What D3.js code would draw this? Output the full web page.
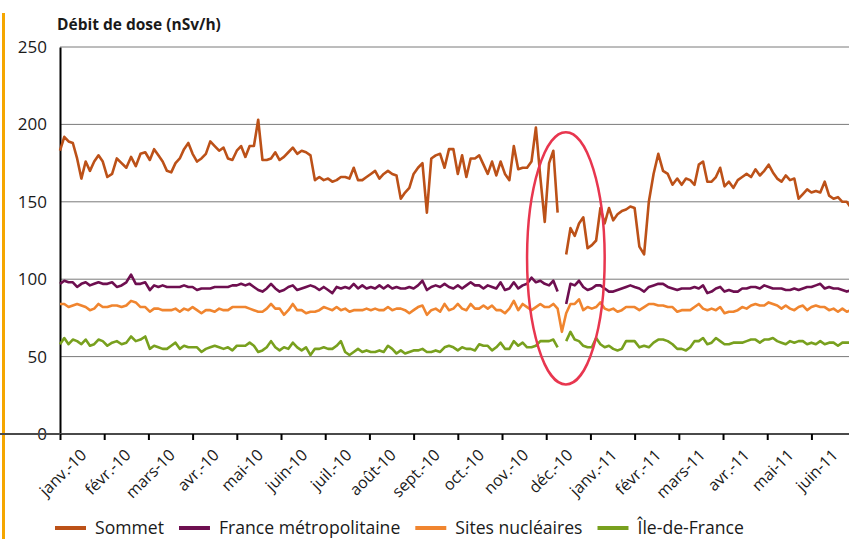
<!DOCTYPE html>
<html><head><meta charset="utf-8">
<script src="https://cdn.jsdelivr.net/npm/d3@7/dist/d3.min.js"></script>
<style>
body{margin:0;background:#fff}
text{font-family:"Open Sans",sans-serif;fill:#1a1a1a}
</style>
</head><body>
<svg id="chart" width="849" height="539"></svg>
<script>
// ---- data ----
const monthLabels = ["janv.-10","févr.-10","mars-10","avr.-10","mai-10","juin-10","juil.-10","août-10","sept.-10","oct.-10","nov.-10","déc.-10","janv.-11","févr.-11","mars-11","avr.-11","mai-11","juin-11"];
const yTicks = [0,50,100,150,200,250];
const seriesNames = ["Sommet","France métropolitaine","Sites nucléaires","Île-de-France"];
const seriesColors = ["#BC5118","#6E0F50","#F0852F","#78A01E"];
const startDate = new Date(2010,0,1);
const stepDays = 3;

const sommet = [183,192,189,188,178,165,176,170,176,180,
176,166,168,178,175,172,179,173,181,182,
177,184,180,176,170,169,175,178,184,188,
181,176,178,181,189,186,183,185,178,177,
183,186,179,186,186,203,177,177,178,182,
177,179,182,185,181,183,182,180,164,166,
164,165,163,164,166,166,165,172,164,164,
166,168,170,165,168,170,168,167,152,156,
159,168,172,175,143,178,180,181,172,184,
184,168,180,166,178,178,180,174,168,176,
167,176,168,164,186,171,172,172,176,198,
166,137,175,183,143,null,116,133,128,136,
140,120,122,125,146,136,146,138,142,144,
145,147,146,121,116,150,168,181,170,168,
161,165,161,165,164,161,174,176,163,163,
166,172,160,163,159,164,166,168,166,171,
167,170,174,169,165,163,167,164,165,152,
155,158,156,157,156,163,154,152,153,150,
150,146];

const franceMetro = [97,99,98,98,95,97,98,96,97,98,
97,97,98,95,96,98,103,97,97,98,
93,96,95,96,95,95,95,95,96,95,
95,93,94,94,94,95,95,95,95,96,
96,97,96,97,95,93,92,94,97,94,
92,93,95,96,93,94,95,96,95,93,
95,93,91,95,94,95,94,97,94,96,
94,95,94,96,94,96,94,95,94,94,
95,94,96,99,93,95,96,95,97,95,
94,96,94,96,98,96,96,94,96,95,
94,98,93,94,98,94,96,97,101,98,
99,97,96,99,92,null,84,97,96,99,
95,93,94,96,96,94,92,92,93,94,
95,96,95,94,92,95,96,97,97,95,
94,93,94,94,94,95,94,96,91,92,
94,95,92,93,92,92,94,94,95,95,
94,96,95,94,94,94,93,93,94,93,
94,95,95,96,97,94,95,94,94,93,
92,93];

const sitesNucleaires = [84,84,82,83,84,83,82,80,81,84,
82,82,83,83,82,83,86,85,82,82,
79,81,81,80,80,80,81,79,81,80,
82,80,78,80,80,79,81,80,80,82,
82,82,82,81,80,79,79,81,84,81,
81,77,80,84,80,80,78,79,79,80,
82,81,80,82,80,81,79,80,80,80,
81,80,81,80,80,82,80,81,81,80,
78,80,82,83,77,80,81,79,84,80,
81,84,81,80,84,81,81,83,81,83,
80,80,78,81,86,80,84,82,80,82,
84,82,82,84,81,66,78,84,84,87,
80,82,81,82,85,81,80,81,79,80,
82,82,82,80,82,84,84,83,83,82,
82,79,80,80,80,82,84,81,80,81,
80,82,78,79,79,80,82,81,83,84,
83,83,85,84,83,81,83,81,80,82,
83,80,82,83,82,82,80,81,79,81,
79,80];

const ileDeFrance = [58,62,58,61,60,58,61,57,58,61,
60,57,59,60,58,59,63,60,61,63,
55,57,56,55,55,57,59,55,57,56,
56,56,53,55,56,57,56,55,56,54,
57,57,57,59,57,53,54,56,60,56,
54,56,55,59,56,54,56,51,55,55,
56,55,55,57,60,53,51,53,55,53,
54,53,53,54,53,57,55,52,54,52,
53,54,54,55,53,53,54,53,56,57,
56,54,56,55,55,54,58,57,57,54,
56,59,55,55,60,57,59,56,56,57,
60,60,60,61,56,null,60,66,61,60,
57,56,56,62,58,56,57,55,54,55,
60,60,60,56,57,56,59,61,61,60,
58,55,55,54,56,60,60,62,58,59,
62,60,58,58,59,59,59,60,61,61,
59,61,61,62,60,59,58,60,59,60,
60,58,59,58,60,58,59,59,57,59,
59,59];

// highlighted period (red ellipse)
const highlightDates = [new Date(2010,10,18), new Date(2011,0,11)];
const highlightValues = [32, 195];

// ---- chart ----
const svg = d3.select("#chart");
const series = [sommet, franceMetro, sitesNucleaires, ileDeFrance];
const dates = sommet.map((_, i) => d3.timeDay.offset(startDate, i * stepDays));
function monthPos(d) {
  const m = (d.getFullYear() - 2010) * 12 + d.getMonth();
  const dim = new Date(d.getFullYear(), d.getMonth() + 1, 0).getDate();
  return m + (d.getDate() - 1) / dim;
}
const x = d3.scaleLinear().domain([0, 17.85]).range([60, 849]);
const y = d3.scaleLinear().domain([0, 250]).range([434, 47]);

// left accent bar
svg.append("rect").attr("x", 2).attr("y", 13).attr("width", 3).attr("height", 526).attr("fill", "#F5A600");

// title
svg.append("text").attr("x", 57).attr("y", 30).attr("font-size", "15.5px").attr("font-weight", "bold").text("Débit de dose (nSv/h)");

// gridlines
svg.append("g").selectAll("line").data(yTicks.filter(v => v > 0)).join("line")
  .attr("x1", 60).attr("x2", 849).attr("y1", d => y(d)).attr("y2", d => y(d))
  .attr("stroke", "#7a7a7a").attr("stroke-width", 1);

// y axis
const yAxis = svg.append("g").attr("transform", "translate(60,0)")
  .call(d3.axisLeft(y).tickValues(yTicks).tickSize(0).tickPadding(13));
yAxis.select(".domain").attr("stroke", "#000").attr("stroke-width", 2);
yAxis.selectAll("text").attr("font-size", "17px").attr("font-family", "Open Sans").attr("fill", "#1a1a1a");

// x axis
const xAxis = svg.append("g").attr("transform", "translate(0,434)")
  .call(d3.axisBottom(x).tickValues(d3.range(monthLabels.length)).tickFormat(i => monthLabels[i]).tickSizeOuter(0).tickSize(6));
xAxis.select(".domain").attr("stroke", "#4a4a4a").attr("stroke-width", 2).attr("d", "M-5,0H849");
xAxis.selectAll(".tick line").attr("stroke", "#000").attr("stroke-width", 2);
xAxis.selectAll(".tick text")
  .attr("font-size", "16px").attr("font-family", "Open Sans").attr("fill", "#1a1a1a")
  .attr("text-anchor", "end").attr("x", 0).attr("y", 0).attr("dy", "0.35em")
  .attr("transform", "translate(23,18) rotate(-45)");
// small tick at zero on y axis
svg.append("line").attr("x1", 55).attr("x2", 60).attr("y1", y(0)).attr("y2", y(0)).attr("stroke", "#4a4a4a").attr("stroke-width", 2);

// lines
const line = d3.line().defined(d => d.v != null).x(d => x(monthPos(d.date))).y(d => y(d.v));
const drawOrder = [3, 2, 1, 0];
drawOrder.forEach(k => {
  const pts = series[k].map((v, i) => ({ date: dates[i], v }));
  svg.append("path").datum(pts).attr("d", line)
    .attr("fill", "none").attr("stroke", seriesColors[k]).attr("stroke-width", 2.6)
    .attr("stroke-linejoin", "round");
});

// red ellipse
const ex0 = x(monthPos(highlightDates[0])), ex1 = x(monthPos(highlightDates[1]));
const ey0 = y(highlightValues[1]), ey1 = y(highlightValues[0]);
svg.append("ellipse").attr("cx", (ex0 + ex1) / 2).attr("cy", (ey0 + ey1) / 2)
  .attr("rx", (ex1 - ex0) / 2).attr("ry", (ey1 - ey0) / 2)
  .attr("fill", "none").attr("stroke", "#E8364F").attr("stroke-width", 2.5);

// legend
const legend = svg.append("g").attr("transform", "translate(55,528)");
let lx = 0;
seriesNames.forEach((name, k) => {
  legend.append("line").attr("x1", lx).attr("x2", lx + 31).attr("y1", 0).attr("y2", 0)
    .attr("stroke", seriesColors[k]).attr("stroke-width", 4);
  const t = legend.append("text").attr("x", lx + 40).attr("y", 0).attr("dy", "0.35em")
    .attr("font-size", "17.6px").text(name);
  lx += 40 + t.node().getComputedTextLength() + 15;
});
</script>
</body></html>
